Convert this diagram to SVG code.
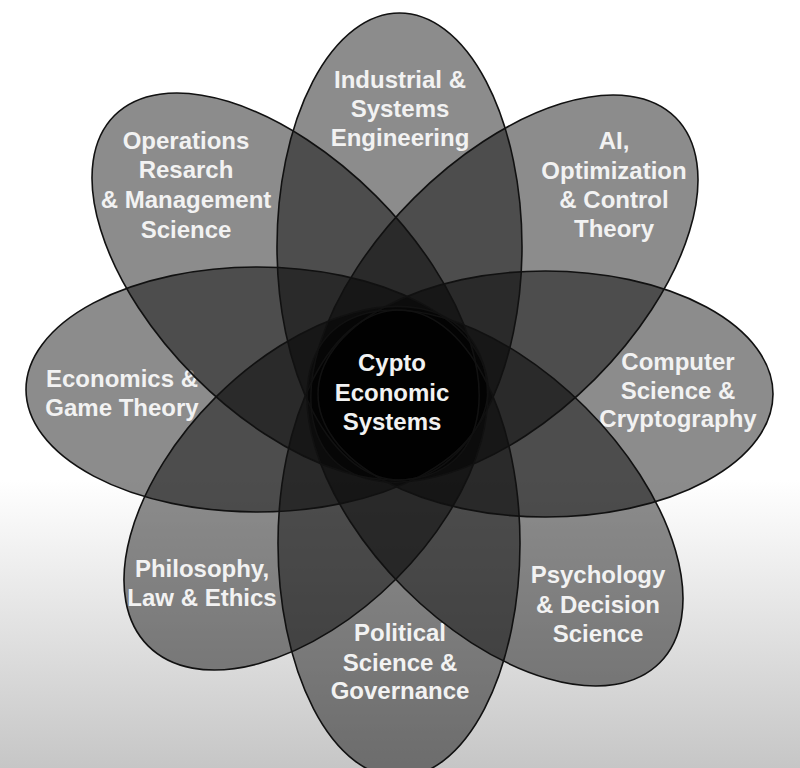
<svg xmlns="http://www.w3.org/2000/svg" xmlns:xlink="http://www.w3.org/1999/xlink" width="800" height="768" viewBox="0 0 800 768">
<style>
.petal{fill:#000;fill-opacity:0.45;stroke:none}
.outline{fill:none;stroke:#111;stroke-width:1.6}
.lbl{font-family:"Liberation Sans",Arial,sans-serif;font-weight:bold;font-size:24px;fill:#f2f2f2;text-anchor:middle}
</style>
<defs>
<linearGradient id="bg" gradientUnits="userSpaceOnUse" x1="0" y1="480" x2="0" y2="768">
<stop offset="0" stop-color="#ffffff"/>
<stop offset="1" stop-color="#c6c6c6"/>
</linearGradient>
<ellipse id="e-ind" cx="399.5" cy="246.5" rx="122.5" ry="233.5"/>
<ellipse id="e-ai" cx="504.4" cy="288.6" rx="242" ry="128" transform="rotate(-45 504.4 288.6)"/>
<ellipse id="e-cs" cx="545.5" cy="394" rx="227.5" ry="123"/>
<ellipse id="e-psy" cx="495" cy="498" rx="233" ry="128" transform="rotate(45 495 498)"/>
<ellipse id="e-pol" cx="399" cy="543.5" rx="121" ry="233.5"/>
<ellipse id="e-phi" cx="305.8" cy="488.2" rx="223" ry="128" transform="rotate(-45 305.8 488.2)"/>
<ellipse id="e-eco" cx="257" cy="389.5" rx="231" ry="122.5"/>
<ellipse id="e-ops" cx="285.6" cy="286.6" rx="242" ry="128" transform="rotate(45 285.6 286.6)"/>
</defs>
<rect width="800" height="768" fill="url(#bg)"/>

<g id="industrial">
<use href="#e-ind" class="petal"/>
<text class="lbl" x="400" y="88">Industrial &amp;</text>
<text class="lbl" x="400" y="117">Systems</text>
<text class="lbl" x="400" y="146">Engineering</text>
</g>
<g id="ai">
<use href="#e-ai" class="petal"/>
<text class="lbl" x="614" y="149">AI,</text>
<text class="lbl" x="614" y="179">Optimization</text>
<text class="lbl" x="614" y="208">&amp; Control</text>
<text class="lbl" x="614" y="237">Theory</text>
</g>
<g id="computer-science">
<use href="#e-cs" class="petal"/>
<text class="lbl" x="678" y="370">Computer</text>
<text class="lbl" x="678" y="399">Science &amp;</text>
<text class="lbl" x="678" y="427">Cryptography</text>
</g>
<g id="psychology">
<use href="#e-psy" class="petal"/>
<text class="lbl" x="598" y="583">Psychology</text>
<text class="lbl" x="598" y="613">&amp; Decision</text>
<text class="lbl" x="598" y="642">Science</text>
</g>
<g id="political">
<use href="#e-pol" class="petal"/>
<text class="lbl" x="400" y="641">Political</text>
<text class="lbl" x="400" y="671">Science &amp;</text>
<text class="lbl" x="400" y="699">Governance</text>
</g>
<g id="philosophy">
<use href="#e-phi" class="petal"/>
<text class="lbl" x="202" y="577">Philosophy,</text>
<text class="lbl" x="202" y="606">Law &amp; Ethics</text>
</g>
<g id="economics">
<use href="#e-eco" class="petal"/>
<text class="lbl" x="122" y="387">Economics &amp;</text>
<text class="lbl" x="122" y="416">Game Theory</text>
</g>
<g id="operations">
<use href="#e-ops" class="petal"/>
<text class="lbl" x="186" y="149">Operations</text>
<text class="lbl" x="186" y="178">Resarch</text>
<text class="lbl" x="186" y="208">&amp; Management</text>
<text class="lbl" x="186" y="238">Science</text>
</g>

<g id="outlines">
<use href="#e-ind" class="outline"/>
<use href="#e-ai" class="outline"/>
<use href="#e-cs" class="outline"/>
<use href="#e-psy" class="outline"/>
<use href="#e-pol" class="outline"/>
<use href="#e-phi" class="outline"/>
<use href="#e-eco" class="outline"/>
<use href="#e-ops" class="outline"/>
</g>

<g id="center">
<text class="lbl" x="392" y="371">Cypto</text>
<text class="lbl" x="392" y="401">Economic</text>
<text class="lbl" x="392" y="430">Systems</text>
</g>
</svg>
